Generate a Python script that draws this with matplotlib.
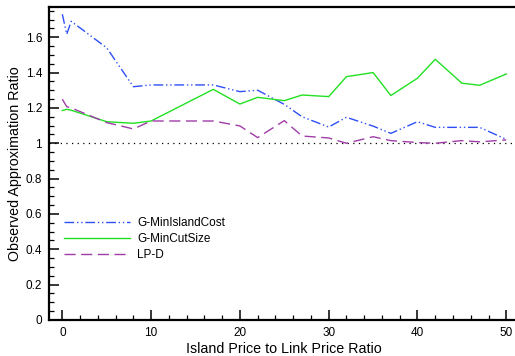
import matplotlib.pyplot as plt
from matplotlib.ticker import MultipleLocator

plt.rcParams['font.family'] = ['Liberation Sans', 'DejaVu Sans']

# Data
ratio = [0, 0.5, 1, 5, 8, 10, 17, 20, 22, 25, 27, 30, 32, 35, 37, 40, 42, 45, 47, 50]
min_island_cost = [1.73, 1.617, 1.69, 1.54, 1.32, 1.33, 1.33, 1.292, 1.30, 1.22, 1.15,
                   1.092, 1.147, 1.097, 1.056, 1.122, 1.09, 1.09, 1.09, 1.022]
min_cut_size = [1.185, 1.192, 1.187, 1.122, 1.113, 1.126, 1.305, 1.222, 1.26, 1.241, 1.273,
                1.264, 1.377, 1.40, 1.27, 1.368, 1.475, 1.34, 1.328, 1.392]
lp_d = [1.249, 1.207, 1.20, 1.117, 1.081, 1.126, 1.126, 1.098, 1.032, 1.128, 1.041,
        1.03, 1.0, 1.037, 1.015, 1.004, 1.0, 1.015, 1.008, 1.019]

fig = plt.figure(figsize=(5.15, 3.56), dpi=100)
ax = fig.add_axes([49 / 515, 36 / 356, 470.6 / 515, 313 / 356])

ax.axhline(1.0, color='black', lw=0.9, linestyle=(0, (1, 3.5)), zorder=1)
ax.plot(ratio, min_island_cost, color='#2f4ff5', lw=1.0,
        linestyle=(0, (7, 2, 1, 2, 1, 2)), label='G-MinIslandCost')
ax.plot(ratio, min_cut_size, color='#22e022', lw=1.0, label='G-MinCutSize')
ax.plot(ratio, lp_d, color='#a03ca8', lw=1.0, linestyle=(0, (8, 4)), label='LP-D')

ax.set_xlim(-1.5, 51.5)
ax.set_ylim(0, 1.771)
ax.xaxis.set_major_locator(MultipleLocator(10))
ax.xaxis.set_minor_locator(MultipleLocator(2))
ax.yaxis.set_major_locator(MultipleLocator(0.2))
ax.yaxis.set_minor_locator(MultipleLocator(0.05))
ax.yaxis.set_major_formatter(plt.FuncFormatter(lambda v, p: '{:g}'.format(round(v, 2))))
ax.tick_params(which='major', direction='in', length=7, width=1.1, labelsize=8.5, pad=5)
ax.tick_params(which='minor', direction='in', length=3.5, width=0.9)

for s in ax.spines.values():
    s.set_linewidth(1.6)
ax.spines['right'].set_visible(False)

ax.set_xlabel('Island Price to Link Price Ratio', fontsize=10.3, labelpad=2)
ax.set_ylabel('Observed Approximation Ratio', fontsize=10.3)
ax.yaxis.set_label_coords(-0.058, 0.5)

ax.legend(frameon=False, loc='center left', bbox_to_anchor=(0.032, 0.258),
          borderaxespad=0, borderpad=0, handlelength=5.6, handletextpad=0.6,
          labelspacing=0.35, fontsize=8.5)

fig.savefig('out.png', dpi=100)
